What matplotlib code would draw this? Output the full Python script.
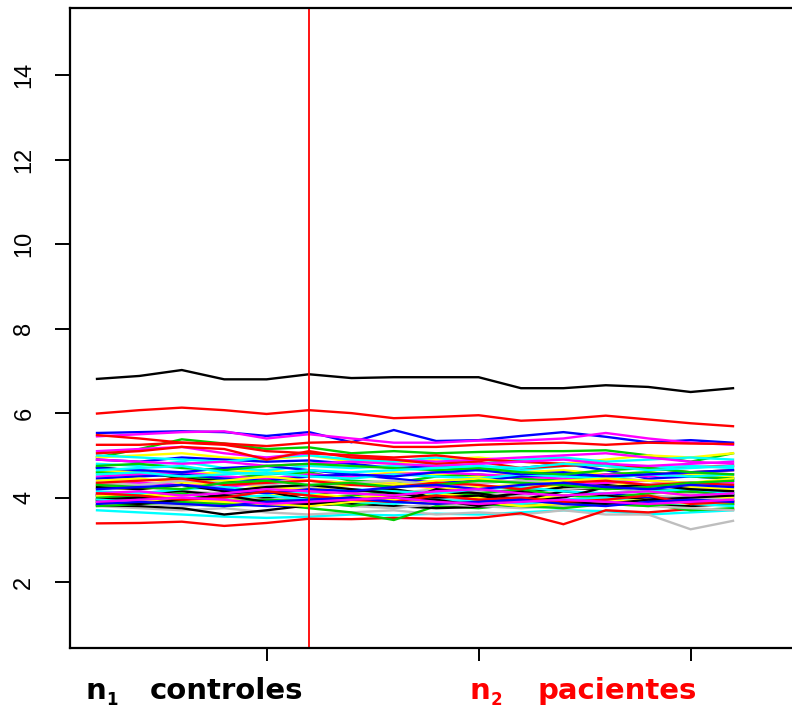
import matplotlib
matplotlib.use("Agg")
import matplotlib.pyplot as plt
import numpy as np

# sample index 1..16 (controls | patients split after sample 6)
samples = np.arange(1, 17)
split_at = 6
xticks = [5, 10, 15]
yticks = [2, 4, 6, 8, 10, 12, 14]

# R palette colours, one group of profiles per colour
black = [
    [6.81, 6.88, 7.02, 6.80, 6.80, 6.92, 6.83, 6.85, 6.85, 6.85, 6.59, 6.59, 6.66, 6.62, 6.50, 6.59],
    [4.72, 4.62, 4.45, 4.40, 4.30, 4.20, 4.15, 4.05, 4.10, 4.12, 4.15, 4.20, 4.22, 4.18, 4.10, 4.05],
    [3.82, 3.80, 3.75, 3.60, 3.70, 3.82, 3.85, 3.80, 3.75, 3.78, 3.80, 3.85, 3.90, 3.82, 3.80, 3.85],
    [4.05, 4.10, 4.15, 4.05, 4.00, 4.10, 4.15, 4.20, 4.05, 4.00, 4.10, 4.25, 4.30, 4.20, 4.15, 4.10],
    [3.95, 4.00, 3.90, 4.10, 4.15, 3.95, 4.00, 3.85, 4.20, 4.10, 3.95, 4.15, 4.05, 3.95, 4.00, 4.05],
    [4.25, 4.20, 4.30, 4.15, 4.25, 4.30, 4.20, 4.10, 4.00, 4.05, 3.90, 4.00, 4.25, 4.30, 4.20, 4.15],
    [3.90, 3.85, 3.95, 4.05, 3.90, 3.85, 3.95, 4.00, 3.95, 3.80, 3.95, 3.90, 3.85, 3.95, 3.90, 3.92],
]
red = [
    [5.99, 6.07, 6.13, 6.07, 5.98, 6.07, 6.00, 5.88, 5.91, 5.95, 5.82, 5.86, 5.94, 5.85, 5.76, 5.69],
    [3.39, 3.40, 3.43, 3.33, 3.40, 3.50, 3.49, 3.52, 3.50, 3.52, 3.63, 3.37, 3.70, 3.65, 3.73, 3.72],
    [5.48, 5.40, 5.30, 5.25, 5.10, 5.05, 5.00, 4.95, 5.00, 4.90, 4.85, 4.80, 4.75, 4.70, 4.72, 4.75],
    [5.25, 5.25, 5.30, 5.28, 5.22, 5.30, 5.32, 5.20, 5.20, 5.25, 5.28, 5.30, 5.25, 5.30, 5.28, 5.27],
    [5.05, 5.10, 5.20, 5.15, 4.90, 5.10, 4.95, 4.90, 4.80, 4.85, 4.70, 4.75, 4.80, 4.70, 4.60, 4.65],
    [4.35, 4.40, 4.45, 4.30, 4.35, 4.40, 4.30, 4.25, 4.35, 4.30, 4.20, 4.35, 4.40, 4.30, 4.35, 4.30],
    [4.10, 4.05, 3.95, 4.00, 4.15, 4.05, 3.95, 3.90, 4.05, 3.95, 4.00, 3.90, 3.95, 4.05, 3.85, 3.90],
]
green = [
    [4.95, 5.15, 5.38, 5.28, 5.15, 5.19, 5.05, 5.10, 5.05, 5.08, 5.10, 5.10, 5.12, 5.00, 4.85, 5.05],
    [3.95, 3.90, 3.85, 3.80, 3.85, 3.75, 3.65, 3.47, 3.80, 3.75, 3.85, 3.95, 3.90, 3.85, 3.70, 3.75],
    [4.60, 4.55, 4.50, 4.45, 4.55, 4.60, 4.40, 4.35, 4.50, 4.55, 4.45, 4.40, 4.55, 4.60, 4.50, 4.45],
    [4.00, 4.05, 4.10, 3.95, 3.90, 4.00, 4.05, 4.15, 4.00, 4.10, 4.20, 4.05, 4.00, 4.10, 4.15, 4.05],
    [3.80, 3.85, 3.90, 3.85, 3.95, 3.90, 3.80, 3.95, 3.90, 3.85, 3.80, 3.75, 3.85, 3.80, 3.90, 3.85],
    [4.30, 4.25, 4.20, 4.35, 4.40, 4.30, 4.35, 4.25, 4.30, 4.40, 4.35, 4.30, 4.20, 4.25, 4.35, 4.40],
    [4.75, 4.80, 4.70, 4.65, 4.75, 4.80, 4.75, 4.70, 4.65, 4.70, 4.60, 4.55, 4.65, 4.70, 4.60, 4.55],
]
blue = [
    [5.53, 5.55, 5.57, 5.55, 5.46, 5.55, 5.31, 5.60, 5.34, 5.36, 5.46, 5.55, 5.44, 5.31, 5.36, 5.30],
    [4.90, 4.85, 4.95, 4.90, 4.85, 4.88, 4.80, 4.70, 4.75, 4.65, 4.70, 4.80, 4.65, 4.45, 4.50, 4.45],
    [4.06, 4.00, 3.95, 3.85, 3.80, 3.82, 3.95, 4.05, 4.00, 3.95, 3.90, 4.05, 4.10, 4.00, 3.95, 4.00],
    [4.45, 4.50, 4.55, 4.45, 4.40, 4.50, 4.55, 4.45, 4.35, 4.40, 4.50, 4.55, 4.45, 4.40, 4.35, 4.40],
    [4.70, 4.65, 4.60, 4.70, 4.75, 4.65, 4.55, 4.50, 4.60, 4.65, 4.55, 4.60, 4.50, 4.55, 4.60, 4.65],
    [4.20, 4.25, 4.30, 4.20, 4.10, 4.20, 4.15, 4.25, 4.30, 4.20, 4.30, 4.35, 4.25, 4.20, 4.30, 4.25],
    [3.85, 3.90, 3.85, 3.80, 3.90, 3.95, 4.00, 3.90, 3.85, 3.90, 3.95, 3.85, 3.80, 3.90, 3.95, 3.90],
]
cyan = [
    [3.70, 3.65, 3.60, 3.55, 3.52, 3.55, 3.60, 3.58, 3.62, 3.60, 3.65, 3.70, 3.68, 3.60, 3.65, 3.70],
    [5.00, 4.95, 4.90, 4.85, 4.95, 5.00, 4.90, 4.85, 4.95, 4.80, 4.90, 4.95, 4.85, 4.90, 4.95, 4.90],
    [4.80, 4.75, 4.85, 4.70, 4.65, 4.75, 4.70, 4.75, 4.80, 4.70, 4.65, 4.75, 4.80, 4.70, 4.75, 4.70],
    [4.55, 4.60, 4.50, 4.55, 4.60, 4.50, 4.45, 4.55, 4.50, 4.45, 4.55, 4.50, 4.45, 4.55, 4.50, 4.55],
    [4.15, 4.10, 4.20, 4.25, 4.15, 4.10, 4.20, 4.15, 4.10, 4.20, 4.25, 4.15, 4.10, 4.15, 4.20, 4.10],
    [3.95, 3.90, 3.95, 4.00, 4.05, 3.95, 3.90, 3.85, 3.95, 3.90, 3.85, 3.95, 4.00, 3.90, 3.85, 3.80],
    [4.65, 4.70, 4.75, 4.60, 4.55, 4.65, 4.60, 4.65, 4.70, 4.75, 4.70, 4.80, 4.75, 4.65, 4.70, 4.75],
]
magenta = [
    [5.45, 5.50, 5.55, 5.57, 5.40, 5.50, 5.40, 5.30, 5.30, 5.35, 5.35, 5.40, 5.53, 5.40, 5.30, 5.25],
    [5.10, 5.15, 5.20, 5.05, 4.95, 5.05, 5.00, 4.90, 4.85, 4.90, 4.95, 5.00, 5.05, 4.95, 4.85, 4.80],
    [4.50, 4.55, 4.60, 4.50, 4.45, 4.55, 4.50, 4.55, 4.60, 4.55, 4.50, 4.45, 4.55, 4.50, 4.60, 4.55],
    [4.30, 4.35, 4.30, 4.25, 4.35, 4.40, 4.35, 4.30, 4.25, 4.35, 4.40, 4.30, 4.35, 4.40, 4.30, 4.35],
    [4.90, 4.85, 4.80, 4.85, 4.75, 4.80, 4.85, 4.80, 4.75, 4.80, 4.85, 4.90, 4.80, 4.75, 4.80, 4.85],
    [4.10, 4.15, 4.05, 4.10, 4.20, 4.15, 4.10, 4.05, 4.15, 4.20, 4.10, 4.05, 4.10, 4.15, 4.05, 4.10],
    [3.90, 3.95, 4.00, 3.95, 3.85, 3.90, 3.95, 4.00, 3.90, 3.85, 3.90, 3.95, 3.90, 3.85, 3.90, 3.95],
]
yellow = [
    [4.95, 5.00, 5.05, 4.95, 4.90, 5.00, 4.85, 4.80, 4.90, 4.95, 4.85, 4.80, 4.90, 5.00, 4.95, 5.05],
    [4.60, 4.65, 4.55, 4.60, 4.65, 4.55, 4.50, 4.60, 4.55, 4.50, 4.60, 4.65, 4.55, 4.60, 4.55, 4.50],
    [4.25, 4.20, 4.30, 4.35, 4.25, 4.20, 4.30, 4.35, 4.20, 4.25, 4.30, 4.25, 4.35, 4.30, 4.25, 4.20],
    [4.05, 4.10, 4.00, 3.95, 4.05, 4.10, 4.00, 4.05, 4.10, 4.00, 3.95, 4.05, 4.10, 4.15, 4.05, 4.00],
    [4.40, 4.45, 4.35, 4.40, 4.50, 4.40, 4.35, 4.30, 4.40, 4.45, 4.35, 4.40, 4.45, 4.40, 4.35, 4.45],
    [3.85, 3.90, 3.95, 3.90, 3.85, 3.80, 3.90, 3.95, 3.85, 3.90, 3.80, 3.85, 3.90, 3.95, 3.85, 3.90],
]
gray = [
    [3.80, 3.75, 3.70, 3.75, 3.65, 3.60, 3.65, 3.70, 3.60, 3.65, 3.60, 3.70, 3.60, 3.60, 3.25, 3.45],
    [4.20, 4.25, 4.15, 4.10, 4.20, 4.25, 4.15, 4.10, 4.20, 4.15, 4.10, 4.20, 4.25, 4.15, 4.10, 4.15],
    [4.00, 3.95, 4.05, 4.10, 4.00, 3.95, 4.00, 4.05, 3.95, 4.00, 4.05, 3.95, 4.00, 4.05, 4.00, 3.95],
    [3.90, 3.85, 3.80, 3.85, 3.95, 3.90, 3.80, 3.75, 3.85, 3.80, 3.75, 3.80, 3.85, 3.80, 3.75, 3.70],
    [4.35, 4.30, 4.40, 4.35, 4.30, 4.25, 4.35, 4.40, 4.30, 4.35, 4.40, 4.30, 4.25, 4.30, 4.35, 4.30],
]

groups = [(black, "#000000"), (red, "#FF0000"), (green, "#00CD00"), (blue, "#0000FF"),
          (cyan, "#00FFFF"), (magenta, "#FF00FF"), (yellow, "#FFFF00"), (gray, "#BEBEBE")]

W, H = 792, 710
fig = plt.figure(figsize=(W / 100, H / 100), dpi=100)
# axes run past the right edge like the cropped original
ax = fig.add_axes([70 / W, 1 - 648 / H, 730 / W, 640 / H])

# draw in matplot order: column k cycles through the palette
nmax = max(len(g) for g, _ in groups)
for k in range(nmax):
    for g, c in groups:
        if k < len(g):
            ax.plot(samples, g[k], color=c, lw=1.7, solid_joinstyle="miter")

ax.axvline(split_at, color="red", lw=1.3)

ax.set_xlim(0.363, 0.363 + 730 / 42.4)
ax.set_ylim(0.44, 15.59)
ax.set_xticks(xticks)
ax.set_xticklabels([])
ax.set_yticks(yticks)
ax.set_yticklabels([str(t) for t in yticks], rotation=90, va="center",
                   fontsize=17, family="Liberation Sans")
ax.tick_params(axis="y", length=11, width=1.4, pad=14)
ax.tick_params(axis="x", length=9.5, width=1.4)
for s in ax.spines.values():
    s.set_linewidth(1.6)

# group labels below the axis
tfont = dict(family="DejaVu Sans", weight="bold", fontsize=21)
yb = 1 - 699 / H
ys = 1 - 705 / H
fig.text(85 / W, yb, "n", color="black", ha="left", va="baseline", **tfont)
fig.text(106 / W, ys, "1", color="black", ha="left", va="baseline",
         family="DejaVu Sans", weight="bold", fontsize=12)
fig.text(150 / W, yb, "controles", color="black", ha="left", va="baseline", **tfont)
fig.text(470 / W, yb, "n", color="red", ha="left", va="baseline", **tfont)
fig.text(491 / W, ys, "2", color="red", ha="left", va="baseline",
         family="DejaVu Sans", weight="bold", fontsize=12)
fig.text(538 / W, yb, "pacientes", color="red", ha="left", va="baseline", **tfont)

fig.savefig("out.png", dpi=100)
